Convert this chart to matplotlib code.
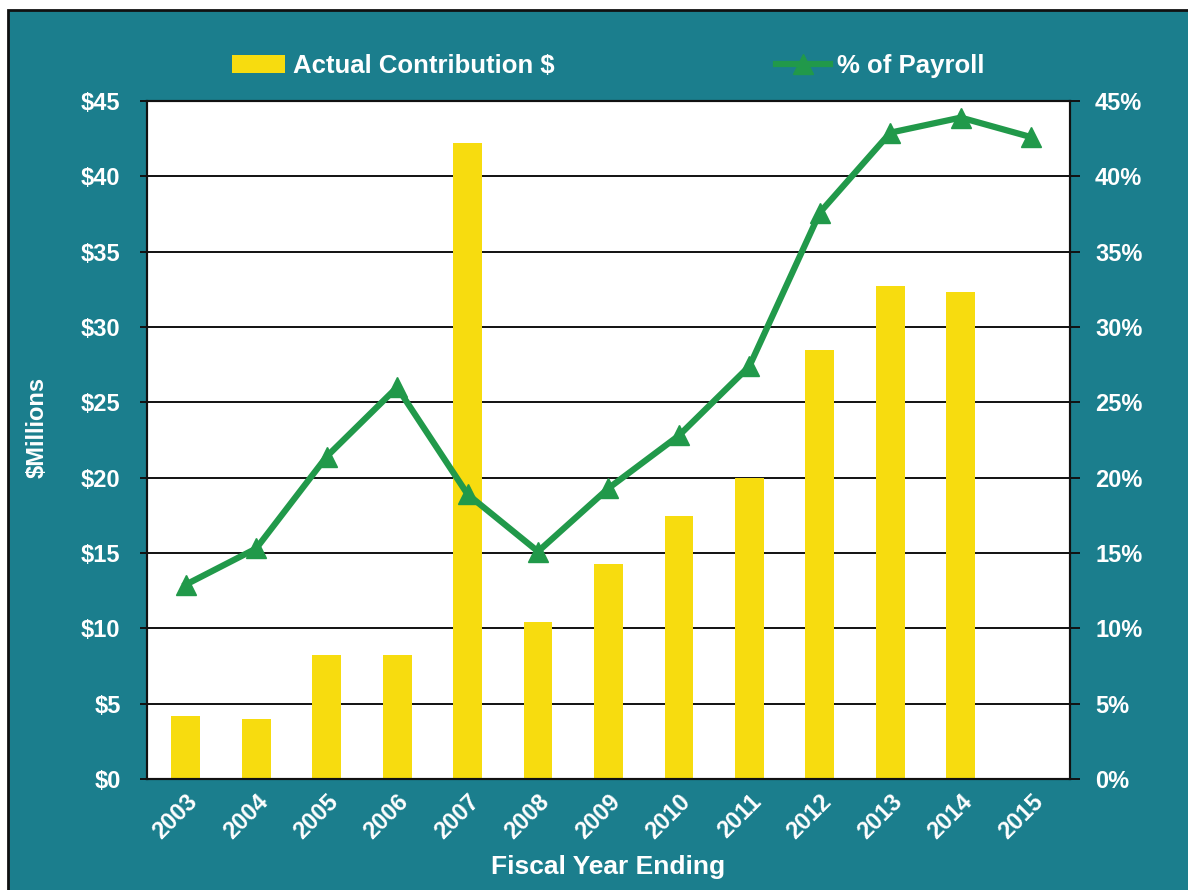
import numpy as np
import matplotlib
matplotlib.use("Agg")
import matplotlib.pyplot as plt
from matplotlib.patches import Rectangle
from matplotlib.ticker import FuncFormatter

TEAL = "#1b7e8d"; YELLOW = "#f7dc0f"; GREEN = "#21994a"; WHITE = "#ffffff"

years = ["2003", "2004", "2005", "2006", "2007", "2008", "2009",
         "2010", "2011", "2012", "2013", "2014", "2015"]
contribution = [4.2, 4.0, 8.2, 8.2, 42.2, 10.4, 14.3, 17.45, 20.0, 28.5, 32.7, 32.3, np.nan]
pct_payroll = [12.9, 15.3, 21.4, 26.0, 18.9, 15.1, 19.3, 22.8, 27.4, 37.6, 42.9, 43.9, 42.6]

plt.rcParams.update({"font.family": ["Liberation Sans", "DejaVu Sans"], "font.weight": "bold"})

fig = plt.figure(figsize=(11.88, 8.90), dpi=100)
fig.patch.set_facecolor(WHITE)
fig.patches.append(Rectangle((0.0067, -0.02), 1.0, 1.0088, transform=fig.transFigure,
                             facecolor=TEAL, edgecolor="#111111", lw=2, zorder=-10))

ax = fig.add_axes([0.1237, 0.1247, 0.7770, 0.7618])
ax.set_facecolor(WHITE)
x = np.arange(len(years))
ax.bar(x, contribution, width=0.41, color=YELLOW, zorder=2, label="Actual Contribution $")
ax.set_ylim(0, 45)
ax.set_xlim(-0.55, len(years) - 0.45)
ax.set_yticks(np.arange(0, 46, 5))
ax.yaxis.set_major_formatter(FuncFormatter(lambda v, p: f"${v:.0f}"))
ax.grid(axis="y", color="#111111", lw=1.4, zorder=1)
ax.set_axisbelow(True)
ax.set_xticks(x)
ax.set_xticklabels(years, rotation=45, ha="right", rotation_mode="anchor")
ax.tick_params(axis="x", length=0, pad=8, colors=WHITE, labelsize=17)
ax.tick_params(axis="y", length=5, width=1.4, color="#111111", labelcolor=WHITE, labelsize=17, pad=14)
for s in ax.spines.values():
    s.set_color("#111111"); s.set_linewidth(1.5)
ax.set_ylabel("$Millions", color=WHITE, fontsize=17, fontweight="bold")
ax.yaxis.set_label_coords(-0.107, 0.518)
ax.set_xlabel("Fiscal Year Ending", color=WHITE, fontsize=19, fontweight="bold", labelpad=8)

ax2 = ax.twinx()
ax2.plot(x, pct_payroll, color=GREEN, lw=4.5, marker="^", ms=14, zorder=4, label="% of Payroll")
ax2.set_ylim(0, 45)
ax2.set_yticks(np.arange(0, 46, 5))
ax2.yaxis.set_major_formatter(FuncFormatter(lambda v, p: f"{v:.0f}%"))
ax2.tick_params(axis="y", length=7, width=1.4, color="#111111", labelcolor=WHITE, labelsize=17, pad=11)
for s in ax2.spines.values():
    s.set_color("#111111"); s.set_linewidth(1.5)

h1, l1 = ax.get_legend_handles_labels()
h2, l2 = ax2.get_legend_handles_labels()
leg = fig.legend(h1 + h2, l1 + l2, loc="center", bbox_to_anchor=(0.512, 0.926), ncol=2,
                 frameon=False, fontsize=18.5, columnspacing=8.6, handlelength=2.1,
                 handleheight=0.7, handletextpad=0.3)
for t in leg.get_texts():
    t.set_color(WHITE); t.set_fontweight("bold")

fig.savefig("out.png", dpi=100, facecolor=WHITE)
